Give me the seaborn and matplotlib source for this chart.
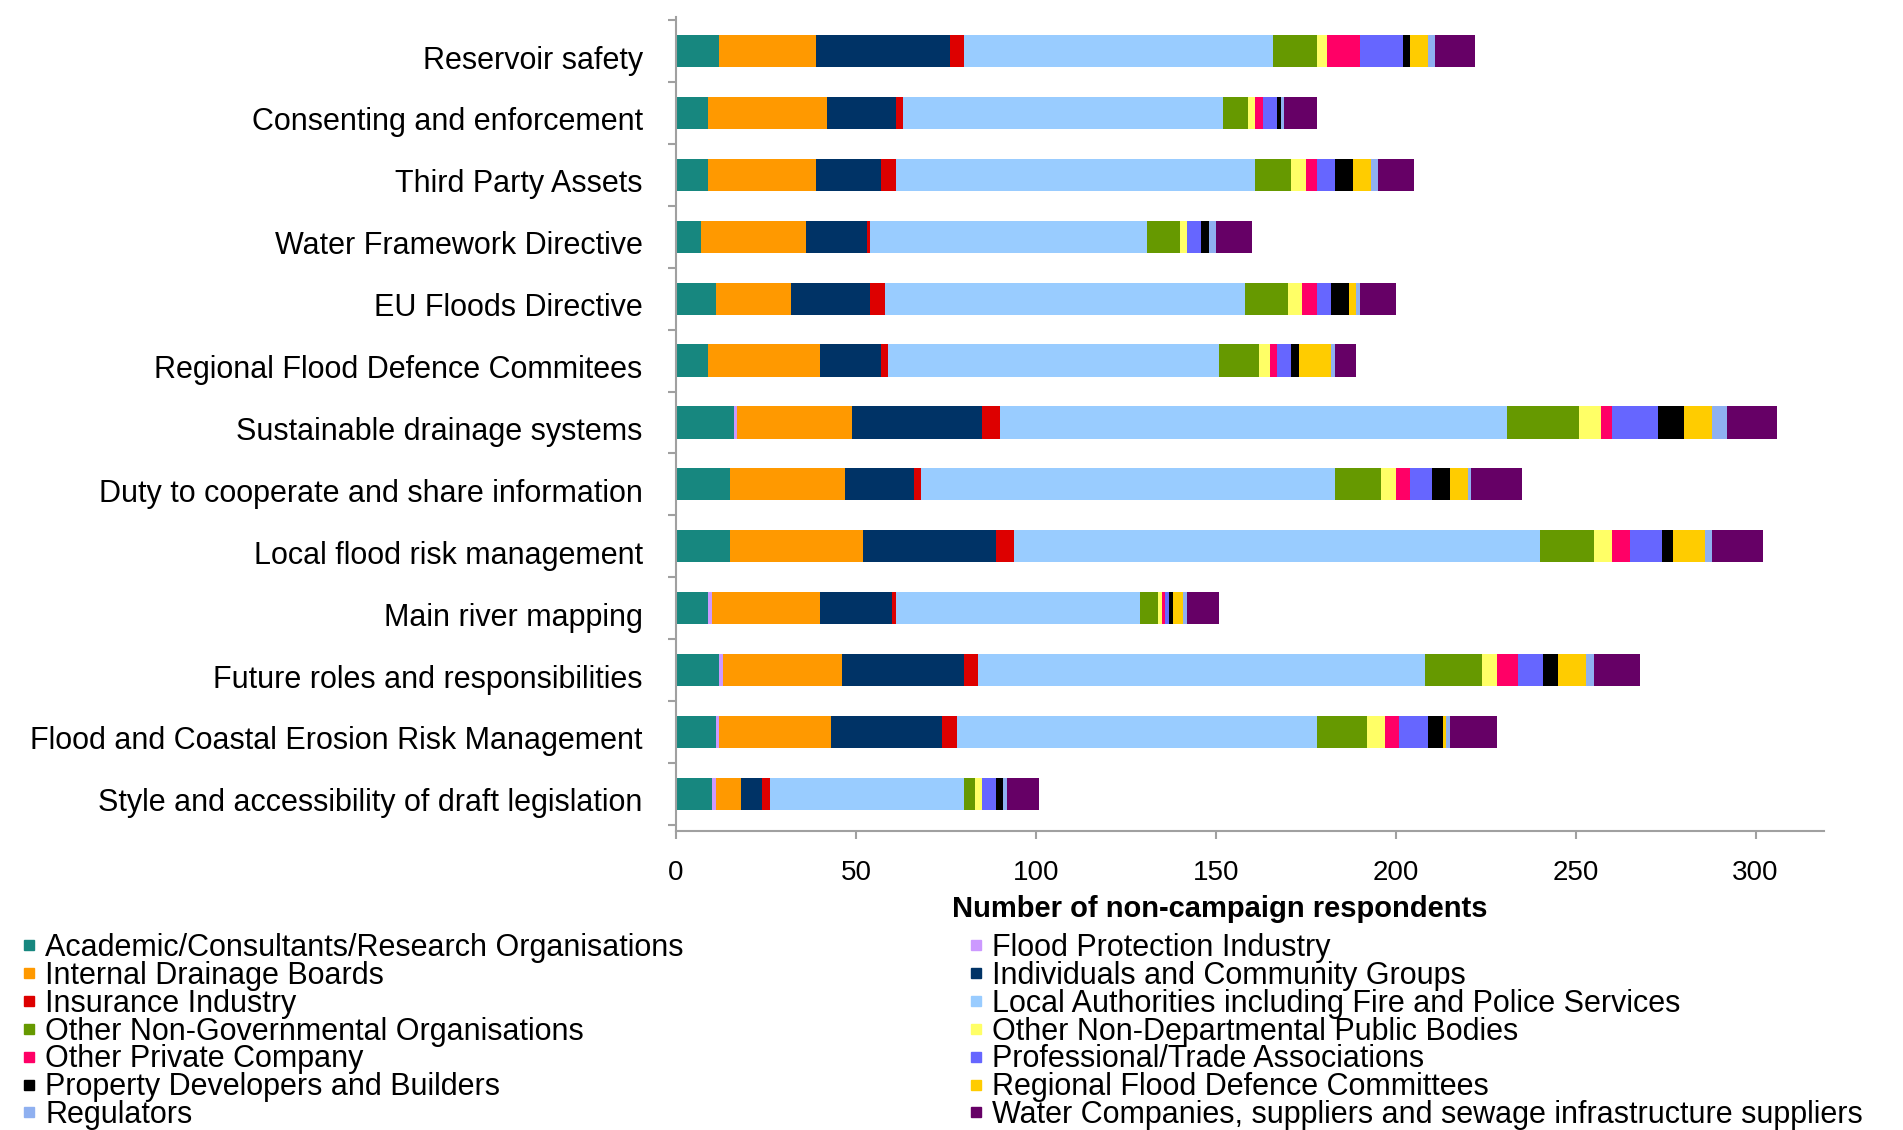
import numpy as np
import pandas as pd
import matplotlib
matplotlib.use("Agg")
import matplotlib.pyplot as plt
import matplotlib.transforms as mtransforms
from matplotlib.lines import Line2D
import seaborn as sns

# Consultation topics, top to bottom
topics = [
    "Reservoir safety",
    "Consenting and enforcement",
    "Third Party Assets",
    "Water Framework Directive",
    "EU Floods Directive",
    "Regional Flood Defence Commitees",
    "Sustainable drainage systems",
    "Duty to cooperate and share information",
    "Local flood risk management",
    "Main river mapping",
    "Future roles and responsibilities",
    "Flood and Coastal Erosion Risk Management",
    "Style and accessibility of draft legislation",
]

# Respondent groups in stacking order
groups = [
    "Academic/Consultants/Research Organisations",
    "Flood Protection Industry",
    "Internal Drainage Boards",
    "Individuals and Community Groups",
    "Insurance Industry",
    "Local Authorities including Fire and Police Services",
    "Other Non-Governmental Organisations",
    "Other Non-Departmental Public Bodies",
    "Other Private Company",
    "Professional/Trade Associations",
    "Property Developers and Builders",
    "Regional Flood Defence Committees",
    "Regulators",
    "Water Companies, suppliers and sewage infrastructure suppliers",
]

# Number of respondents per topic for each group
academic = [12, 9, 9, 7, 11, 9, 16, 15, 15, 9, 12, 11, 10]
flood_protection = [0, 0, 0, 0, 0, 0, 1, 0, 0, 1, 1, 1, 1]
internal_drainage = [27, 33, 30, 29, 21, 31, 32, 32, 37, 30, 33, 31, 7]
individuals = [37, 19, 18, 17, 22, 17, 36, 19, 37, 20, 34, 31, 6]
insurance = [4, 2, 4, 1, 4, 2, 5, 2, 5, 1, 4, 4, 2]
local_authorities = [86, 89, 100, 77, 100, 92, 141, 115, 146, 68, 124, 100, 54]
other_ngo = [12, 7, 10, 9, 12, 11, 20, 13, 15, 5, 16, 14, 3]
other_ndpb = [3, 2, 4, 2, 4, 3, 6, 4, 5, 1, 4, 5, 2]
other_private = [9, 2, 3, 0, 4, 2, 3, 4, 5, 1, 6, 4, 0]
professional = [12, 4, 5, 4, 4, 4, 13, 6, 9, 1, 7, 8, 4]
property_dev = [2, 1, 5, 2, 5, 2, 7, 5, 3, 1, 4, 4, 2]
regional_fdc = [5, 0, 5, 0, 2, 9, 8, 5, 9, 3, 8, 1, 0]
regulators = [2, 1, 2, 2, 1, 1, 4, 1, 2, 1, 2, 1, 1]
water_companies = [11, 9, 10, 10, 10, 6, 14, 14, 14, 9, 13, 13, 9]

series = [academic, flood_protection, internal_drainage, individuals, insurance,
          local_authorities, other_ngo, other_ndpb, other_private, professional,
          property_dev, regional_fdc, regulators, water_companies]

colors = ["#17877f", "#cc99ff", "#ff9900", "#003366", "#dd0000", "#99ccff",
          "#669900", "#ffff66", "#ff0066", "#6666ff", "#000000", "#ffcc00",
          "#8fb0f0", "#660066"]

df = pd.DataFrame(dict(zip(groups, series)))
df.insert(0, "topic", topics)
cum = df[groups].cumsum(axis=1)

sns.set_theme(style="white")
plt.rcParams["font.family"] = ["Liberation Sans", "DejaVu Sans"]
plt.rcParams["text.color"] = "black"

W, H = 1903, 1130
fig = plt.figure(figsize=(W / 100, H / 100), dpi=100)
ax = fig.add_axes([676 / W, 299 / H, (1824 - 676) / W, (1113 - 299) / H])

# Stacked bars: draw running totals from the longest down so each layer shows its own segment
for g, c in zip(groups[::-1], colors[::-1]):
    sns.barplot(x=cum[g], y=df["topic"], order=topics, orient="h", color=c,
                saturation=1, width=0.52, linewidth=0, errorbar=None, ax=ax)

ax.set_xlim(0, 319)
ax.set_ylim(12.6, -0.55)
ax.set_xticks(range(0, 301, 50))
ax.set_yticks(range(len(topics)))
ax.set_yticklabels(topics)
ax.set_yticks(np.arange(-0.5, len(topics), 1), minor=True)

for s in ("top", "right"):
    ax.spines[s].set_visible(False)
for s in ("left", "bottom"):
    ax.spines[s].set_color("#a0a0a0")
    ax.spines[s].set_linewidth(1.5)

ax.tick_params(axis="y", which="major", length=0, pad=24, labelsize=22, labelcolor="black")
ax.tick_params(axis="y", which="minor", left=True, length=6, width=1.5, color="#a0a0a0")
ax.tick_params(axis="x", which="major", bottom=True, length=6, width=1.5, color="#a0a0a0",
               pad=15, labelsize=20, labelcolor="black")

# Category labels sit a touch below the bar centres
shift = mtransforms.ScaledTranslation(0, -6 / 100, fig.dpi_scale_trans)
for lab in ax.get_yticklabels():
    lab.set_transform(lab.get_transform() + shift)

ax.set_ylabel("")
ax.set_xlabel("Number of non-campaign respondents", fontsize=21, fontweight="bold", color="black")
ax.xaxis.set_label_coords(0.474, -0.079)

# Legend in two columns, read left to right
handles = [Line2D([], [], marker="s", linestyle="", markersize=7, color=c) for c in colors]
leg_kw = dict(loc="upper left", frameon=False, fontsize=22, borderpad=0, borderaxespad=0,
              handlelength=0.5, handletextpad=0.3, labelspacing=-0.07, labelcolor="black")
leg1 = fig.legend(handles[0::2], groups[0::2], bbox_to_anchor=(21 / W, 1 - 933 / H), **leg_kw)
leg2 = fig.legend(handles[1::2], groups[1::2], bbox_to_anchor=(968 / W, 1 - 933 / H), **leg_kw)

fig.savefig("out.png", dpi=100)
